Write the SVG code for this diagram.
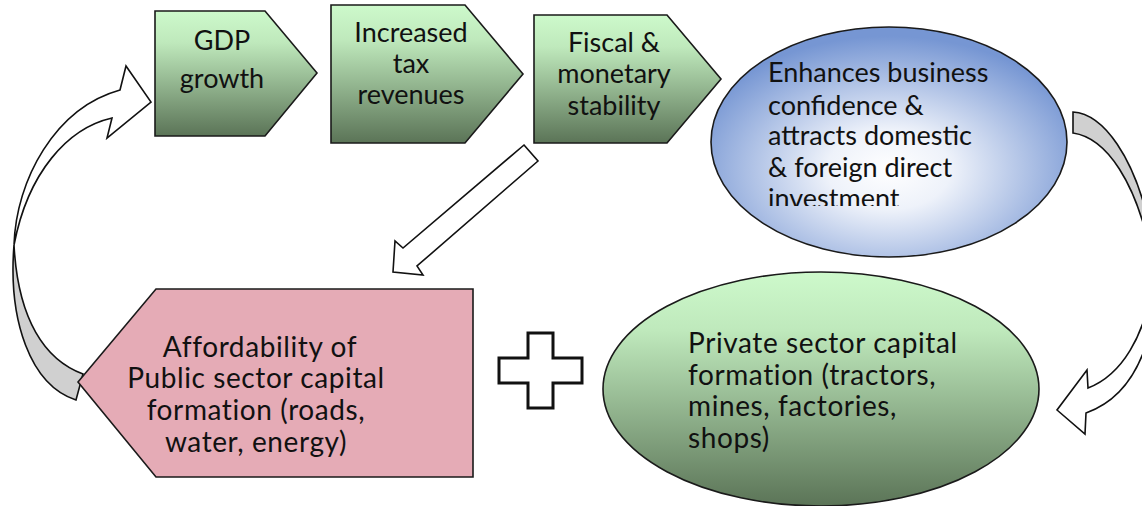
<svg xmlns="http://www.w3.org/2000/svg" width="1142" height="506" viewBox="0 0 1142 506">
  <defs>
    <linearGradient id="greenFade" x1="0" y1="0" x2="0" y2="1">
      <stop offset="0" stop-color="#cdf9cb"/>
      <stop offset="0.25" stop-color="#bfe9bc"/>
      <stop offset="1" stop-color="#5b7457"/>
    </linearGradient>
    <radialGradient id="blueGlow" cx="0.5" cy="0.62" r="0.58">
      <stop offset="0" stop-color="#ffffff"/>
      <stop offset="0.3" stop-color="#eef2fa"/>
      <stop offset="1" stop-color="#7696d3"/>
    </radialGradient>
    <clipPath id="blueTextClip">
      <rect x="700" y="20" width="380" height="186"/>
    </clipPath>
    <style>
      .shape { stroke: #1a1a1a; stroke-width: 1.6; stroke-linejoin: miter; }
      .chev { fill: url(#greenFade); }
      .label { font-family: Lato, "Noto Sans", sans-serif; font-size: 27px; fill: #111111; }
      .wide { font-size: 28px; letter-spacing: 0.6px; }
      .mid { text-anchor: middle; }
      .hollow { fill: #ffffff; stroke: #111111; stroke-width: 1.6; stroke-linejoin: miter; }
      .back { fill: #d0d0d0; stroke: #111111; stroke-width: 1.6; }
    </style>
  </defs>

  <!-- connectors -->
  <g id="connectors">
    <!-- loop back from public capital to GDP growth -->
    <path class="back" d="M 14,245 C 8,320 30,385 76,400 L 83,374 C 45,360 18,320 14,245 Z"/>
    <path class="hollow" d="M 14,245 C 16,180 55,108 120,90 L 126,66 L 151,102 L 107,138 L 112,118 C 68,128 28,172 14,245 Z"/>
    <!-- stability feeds public capital -->
    <path class="hollow" d="M 524,145 L 538,161 L 417,266 L 423,275 L 393,272 L 395,241 L 403,248 Z"/>
    <!-- confidence feeds private capital -->
    <path class="back" d="M 1073,112 C 1105,114 1134,160 1148,220 L 1150,250 C 1136,185 1108,138 1073,133 Z"/>
    <path class="hollow" d="M 1152,285 C 1145,335 1122,375 1088,388 L 1087,370 L 1057,410 L 1085,434 L 1086,413 C 1128,398 1150,355 1156,295 Z"/>
  </g>

  <!-- top row of chevrons -->
  <g id="gdp-growth">
    <path class="shape chev" d="M 155,11 L 265,11 L 317,73 L 265,136 L 155,136 Z"/>
    <text class="label mid" x="222" y="50">GDP</text>
    <text class="label mid" x="222" y="88">growth</text>
  </g>

  <g id="tax-revenues">
    <path class="shape chev" d="M 331,5 L 465,5 L 523,74 L 465,143 L 331,143 Z"/>
    <text class="label mid" x="411" y="42">Increased</text>
    <text class="label mid" x="411" y="73">tax</text>
    <text class="label mid" x="411" y="104">revenues</text>
  </g>

  <g id="fiscal-stability">
    <path class="shape chev" d="M 534,15 L 667,15 L 721,79 L 667,143 L 534,143 Z"/>
    <text class="label mid" x="614" y="52">Fiscal &amp;</text>
    <text class="label mid" x="614" y="83">monetary</text>
    <text class="label mid" x="614" y="115">stability</text>
  </g>

  <g id="business-confidence">
    <ellipse class="shape" cx="889" cy="142" rx="178" ry="115" fill="url(#blueGlow)"/>
    <g clip-path="url(#blueTextClip)">
      <text class="label" x="768" y="82">Enhances business</text>
      <text class="label" x="768" y="115">confidence &amp;</text>
      <text class="label" x="768" y="145">attracts domestic</text>
      <text class="label" x="768" y="177">&amp; foreign direct</text>
      <text class="label" x="768" y="208">investment</text>
    </g>
  </g>

  <!-- bottom row -->
  <g id="public-capital">
    <path class="shape" fill="#e5abb6" d="M 78,382 L 156,289 L 473,289 L 473,477 L 156,477 Z"/>
    <text class="label wide mid" x="260" y="357">Affordability of</text>
    <text class="label wide mid" x="256" y="388">Public sector capital</text>
    <text class="label wide mid" x="256" y="420">formation (roads,</text>
    <text class="label wide mid" x="256" y="452">water, energy)</text>
  </g>

  <g id="plus-sign">
    <path fill="#ffffff" stroke="#111111" stroke-width="3" d="M 528,333 L 553,333 L 553,358 L 582,358 L 582,383 L 553,383 L 553,408 L 528,408 L 528,383 L 499,383 L 499,358 L 528,358 Z"/>
  </g>

  <g id="private-capital">
    <ellipse class="shape" cx="821" cy="389" rx="218" ry="117" fill="url(#greenFade)"/>
    <text class="label wide" x="688" y="353">Private sector capital</text>
    <text class="label wide" x="688" y="385">formation (tractors,</text>
    <text class="label wide" x="688" y="416">mines, factories,</text>
    <text class="label wide" x="688" y="448">shops)</text>
  </g>
</svg>
